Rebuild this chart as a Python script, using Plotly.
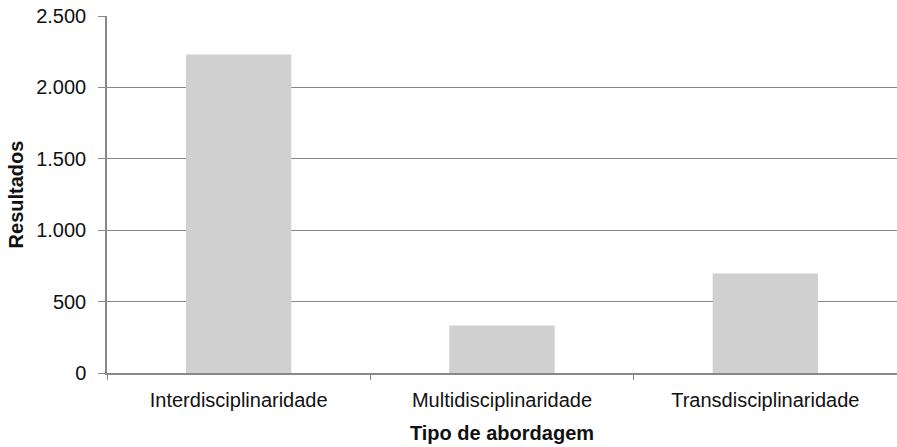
import plotly.graph_objects as go

categories = ["Interdisciplinaridade", "Multidisciplinaridade", "Transdisciplinaridade"]
values = [2230, 332, 697]
y_ticks = [0, 500, 1000, 1500, 2000, 2500]

fig = go.Figure(
    go.Bar(x=categories, y=values, marker=dict(color="#d0d0d0", line=dict(width=0)))
)

font = "Liberation Sans, Arial, sans-serif"
fig.update_layout(
    width=897,
    height=447,
    margin=dict(l=107, r=0, t=16, b=74),
    paper_bgcolor="white",
    plot_bgcolor="white",
    bargap=0.6,
    separators=",.",
    font=dict(family=font, size=20, color="#111"),
    showlegend=False,
)
fig.update_xaxes(
    automargin=False,
    showline=True,
    linecolor="#888",
    linewidth=1.5,
    ticks="outside",
    tickson="boundaries",
    ticklen=5,
    tickcolor="#888",
    ticklabelstandoff=8,
    tickfont=dict(size=20),
    title=dict(text="<b>Tipo de abordagem</b>", font=dict(size=20), standoff=16),
    showgrid=False,
)
fig.update_yaxes(
    automargin=False,
    range=[0, 2500],
    tickvals=y_ticks,
    tickformat=",d",
    showline=True,
    linecolor="#888",
    linewidth=1.5,
    ticks="outside",
    ticklen=7,
    tickcolor="#888",
    ticklabelstandoff=8,
    showgrid=True,
    gridcolor="#888",
    gridwidth=1.2,
    zeroline=False,
    tickfont=dict(size=20),
    title=dict(text="<b>Resultados</b>", font=dict(size=20), standoff=7),
)
fig.write_html(
    "out.html",
    config={"displayModeBar": False},
    post_script="document.body.style.margin='0';document.body.style.overflow='hidden';",
)
